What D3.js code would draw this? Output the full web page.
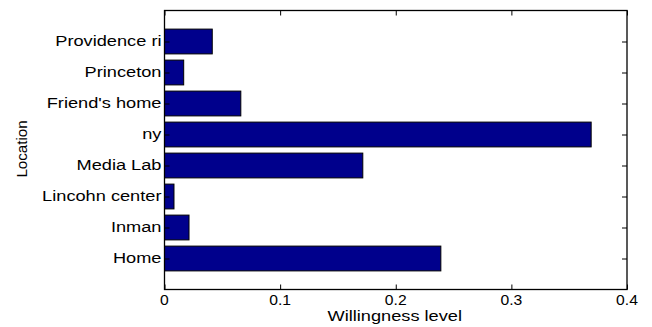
<!DOCTYPE html>
<html><head><meta charset="utf-8">
<script src="https://cdn.jsdelivr.net/npm/d3@7"></script>
<style>body{margin:0;background:#fff}svg{display:block}text{font-family:"Liberation Sans",Arial,sans-serif;fill:#000}</style>
</head><body><svg id="c" width="652" height="327"></svg>
<script>
const categories = ["Home","Inman","Lincohn center","Media Lab","ny","Friend's home","Princeton","Providence ri"];
const values = [0.239,0.0212,0.0082,0.1715,0.369,0.066,0.0166,0.0413];
const xTicks = [0,0.1,0.2,0.3,0.4];
const xLabel = "Willingness level", yLabel = "Location";

const svg = d3.select("#c");
const L=164.5, R=627, T=10.5, B=289.5;
const x = d3.scaleLinear().domain([0,0.4]).range([L,R]);
const y = d3.scaleLinear().domain([0,9]).range([B,T]);
const bw = (y(0)-y(0.8));

svg.append("g").selectAll("rect").data(values).join("rect")
  .attr("x", x(0)).attr("y",(d,i)=>y(i+1)-bw/2)
  .attr("width", d=>x(d)-x(0)).attr("height", bw)
  .attr("fill","#00008c").attr("stroke","#000").attr("stroke-width",1);

svg.append("rect").attr("x",L).attr("y",T).attr("width",R-L).attr("height",B-T)
  .attr("fill","none").attr("stroke","#000").attr("stroke-width",1.3);

const tl = 5;
const gx = svg.append("g").attr("transform",`translate(0,${B})`)
  .call(d3.axisBottom(x).tickValues(xTicks).tickSize(-tl).tickFormat(""));
gx.select(".domain").remove();
const gxt = svg.append("g").attr("transform",`translate(0,${T})`).call(d3.axisTop(x).tickValues(xTicks).tickSize(-tl).tickFormat(""));
gxt.select(".domain").remove();
const yTickVals = categories.map((c,i)=>i+1);
const gy = svg.append("g").attr("transform",`translate(${L},0)`).call(d3.axisLeft(y).tickValues(yTickVals).tickSize(-tl).tickFormat(""));
gy.select(".domain").remove();
const gyr = svg.append("g").attr("transform",`translate(${R},0)`).call(d3.axisRight(y).tickValues(yTickVals).tickSize(-tl).tickFormat(""));
gyr.select(".domain").remove();
svg.selectAll(".tick line").attr("stroke","#000");

// stretched text helper
function stretch(sel, f){
  sel.each(function(){ const w=this.getComputedTextLength(); d3.select(this).attr("textLength", w*f).attr("lengthAdjust","spacingAndGlyphs"); });
}
const fmt = d=>d===0?"0":d3.format(".1f")(d);
const xt = svg.append("g").selectAll("text").data(xTicks).join("text")
  .attr("x",d=>x(d)).attr("y",305).attr("text-anchor","middle").attr("font-size",14).text(fmt);
stretch(xt,1.12);
const yt = svg.append("g").selectAll("text").data(categories).join("text")
  .attr("x",L-3).attr("y",(d,i)=>y(i+1)+4.8).attr("text-anchor","end").attr("font-size",14).text(d=>d);
stretch(yt,1.3);
const xl = svg.append("text").attr("x",(L+R)/2-1).attr("y",321).attr("text-anchor","middle").attr("font-size",14).text(xLabel);
stretch(xl,1.3);
const yl = svg.append("text").attr("transform",`translate(27,${(T+B)/2-1}) rotate(-90)`).attr("text-anchor","middle").attr("font-size",14).text(yLabel);
stretch(yl,1.08);
</script></body></html>
